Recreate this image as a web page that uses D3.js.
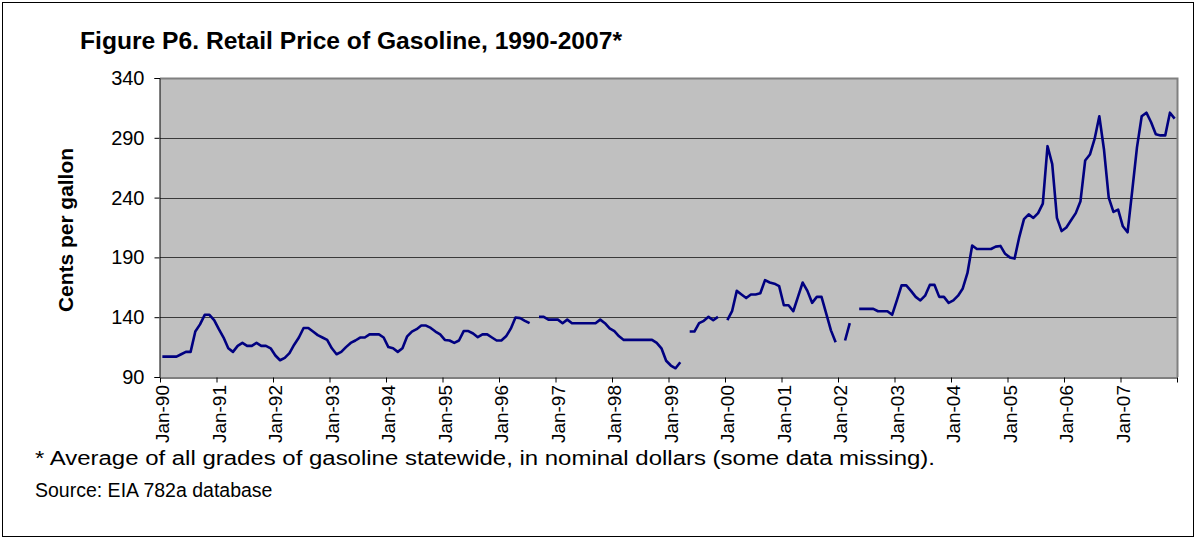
<!DOCTYPE html>
<html>
<head>
<meta charset="utf-8">
<script src="https://cdn.jsdelivr.net/npm/d3@7"></script>
<style>
  body { margin: 0; background: #fff; }
  svg text { font-family: "Liberation Sans", Arial, sans-serif; }
</style>
</head>
<body>
<svg></svg>
<script>
var width = 1196;
var height = 539;

// monthly prices, cents per gallon, Jan-1990 .. Dec-2007 (null = missing)
var prices1990 = [107, 107, 107, 107, 109, 111, 111, 128, 134, 142, 142, 137.5];
var prices1991 = [130, 123, 114, 111, 116, 118.5, 116, 116, 118.5, 116, 116, 114];
var prices1992 = [108, 104, 106, 110, 117, 123, 131, 131, 128, 125, 123, 121];
var prices1993 = [114, 109, 111, 115, 118.5, 120.5, 123, 123, 125.6, 125.6, 125.6, 123];
var prices1994 = [115, 114, 111, 114, 124, 128, 130, 133, 133, 131, 128, 125.6];
var prices1995 = [121, 120.5, 118.5, 120.5, 128.4, 128.4, 126.4, 123.3, 125.6, 125.6, 123, 120.5];
var prices1996 = [120.5, 124, 130.4, 139.7, 139.2, 137, 135, null, 140.3, 140.3, 138, 138];
var prices1997 = [138, 135, 138, 135, 135, 135, 135, 135, 135, 138, 135, 130.7];
var prices1998 = [128.4, 124, 121, 121, 121, 121, 121, 121, 121, 118.5, 114, 103.6];
var prices1999 = [99.6, 97.3, 102.4, null, 128, 128, 135, 137, 140.3, 137.5, 140.3, null];
var prices2000 = [137.5, 145, 162, 159, 156, 159, 159, 160, 171, 169, 168, 166];
var prices2001 = [150, 150, 145, 157, 169, 162, 152, 157, 157, 143, 129, 119];
var prices2002 = [null, 120.5, 135, null, 147, 147, 147, 147, 145, 145, 145, 142];
var prices2003 = [154, 166.6, 166.6, 162, 157, 154, 158, 167, 167, 157, 157, 152];
var prices2004 = [154, 158, 164, 177, 200, 197, 197, 197, 197, 199, 199.6, 193];
var prices2005 = [190, 189, 207, 222, 226, 223, 227, 235, 283, 268, 223, 212];
var prices2006 = [215, 221, 227, 237, 271, 276, 289, 308, 280, 240, 228, 230];
var prices2007 = [216, 211, 246, 282, 308, 311, 303, 293, 292, 292, 311, 306];

var prices = [].concat(prices1990, prices1991, prices1992, prices1993, prices1994,
    prices1995, prices1996, prices1997, prices1998, prices1999, prices2000,
    prices2001, prices2002, prices2003, prices2004, prices2005, prices2006, prices2007);

var yTicks = [90, 140, 190, 240, 290, 340];
var xLabels = ["Jan-90", "Jan-91", "Jan-92", "Jan-93", "Jan-94", "Jan-95", "Jan-96",
    "Jan-97", "Jan-98", "Jan-99", "Jan-00", "Jan-01", "Jan-02", "Jan-03", "Jan-04",
    "Jan-05", "Jan-06", "Jan-07"];

var titleText = "Figure P6. Retail Price of Gasoline, 1990-2007*";
var noteText = "* Average of all grades of gasoline statewide, in nominal dollars (some data missing).";
var sourceText = "Source: EIA 782a database";

var plot = { left: 160, right: 1177, top: 78, bottom: 377 };

var svg = d3.select("svg")
            .attr("width", width)
            .attr("height", height)

// outer frame
svg.append("rect")
    .attr("x", 2.5).attr("y", 2.5)
    .attr("width", width - 5).attr("height", height - 5)
    .attr("fill", "#fff")
    .attr("stroke", "#000")
    .attr("stroke-width", 1)

var x = d3.scaleLinear()
        .domain([0, prices.length])
        .range([plot.left, plot.right])

var y = d3.scaleLinear()
        .domain([90, 340])
        .range([plot.bottom, plot.top])

// plot background
svg.append("rect")
    .attr("x", plot.left).attr("y", plot.top)
    .attr("width", plot.right - plot.left)
    .attr("height", plot.bottom - plot.top)
    .attr("fill", "#c0c0c0")

// grid lines
svg.append("g")
    .selectAll("line")
    .data(yTicks.slice(1, -1))
    .enter().append("line")
    .attr("x1", plot.left).attr("x2", plot.right)
    .attr("y1", d => Math.round(y(d)) + 0.5)
    .attr("y2", d => Math.round(y(d)) + 0.5)
    .attr("stroke", "#3a3a3a")
    .attr("stroke-width", 1)

// top and right border of plot area (grey)
svg.append("path")
    .attr("d", "M" + plot.left + "," + (plot.top + 0.5) + "H" + (plot.right + 0.5) + "V" + plot.bottom)
    .attr("fill", "none")
    .attr("stroke", "#808080")
    .attr("stroke-width", 2)

// y axis
var yAxis = d3.axisLeft(y)
        .tickValues(yTicks)
        .tickSize(5)
        .tickPadding(10)
        .tickFormat(d3.format("d"))

var yG = svg.append("g")
        .attr("transform", "translate(" + (plot.left - 0.5) + ",0)")
        .call(yAxis)
yG.select(".domain").attr("stroke", "#000")
yG.selectAll(".tick line").attr("stroke", "#000")
yG.selectAll(".tick text")
    .attr("font-size", 20)
    .attr("fill", "#000")
    .style("font-family", "Liberation Sans, Arial, sans-serif")

// x axis: ticks every 12 months, between categories
var xAxis = d3.axisBottom(x)
        .tickValues(d3.range(0, prices.length + 1, 12))
        .tickSize(5)
        .tickSizeOuter(0)
        .tickFormat("")

var xG = svg.append("g")
        .attr("transform", "translate(0," + (plot.bottom + 0.5) + ")")
        .call(xAxis)
xG.select(".domain").attr("stroke", "#000")
xG.selectAll(".tick line").attr("stroke", "#000")

svg.append("g")
    .selectAll("text")
    .data(xLabels)
    .enter().append("text")
    .attr("transform", (d, i) => "translate(" + (x(i * 12 + 0.5) + 7) + "," + (plot.bottom + 8) + ") rotate(-90)")
    .attr("text-anchor", "end")
    .attr("font-size", 19)
    .attr("fill", "#000")
    .text(d => d)

// price line
var lineFunction = d3.line()
        .defined(d => d != null)
        .x((d, i) => x(i + 0.5))
        .y(d => y(d))

svg.append("path")
    .attr("d", lineFunction(prices))
    .attr("fill", "none")
    .attr("stroke", "#000080")
    .attr("stroke-width", 2.6)
    .attr("stroke-linejoin", "round")

// titles
svg.append("text")
    .attr("x", 80).attr("y", 49)
    .attr("font-size", 23)
    .attr("font-weight", "bold")
    .attr("textLength", 542)
    .attr("lengthAdjust", "spacingAndGlyphs")
    .text(titleText)

svg.append("text")
    .attr("transform", "translate(73,230) rotate(-90)")
    .attr("text-anchor", "middle")
    .attr("font-size", 20)
    .attr("font-weight", "bold")
    .attr("textLength", 164)
    .attr("lengthAdjust", "spacingAndGlyphs")
    .text("Cents per gallon")

svg.append("text")
    .attr("x", 35).attr("y", 465)
    .attr("font-size", 20)
    .attr("textLength", 900)
    .attr("lengthAdjust", "spacingAndGlyphs")
    .text(noteText)

svg.append("text")
    .attr("x", 35).attr("y", 497)
    .attr("font-size", 19.5)
    .text(sourceText)
</script>
</body>
</html>
